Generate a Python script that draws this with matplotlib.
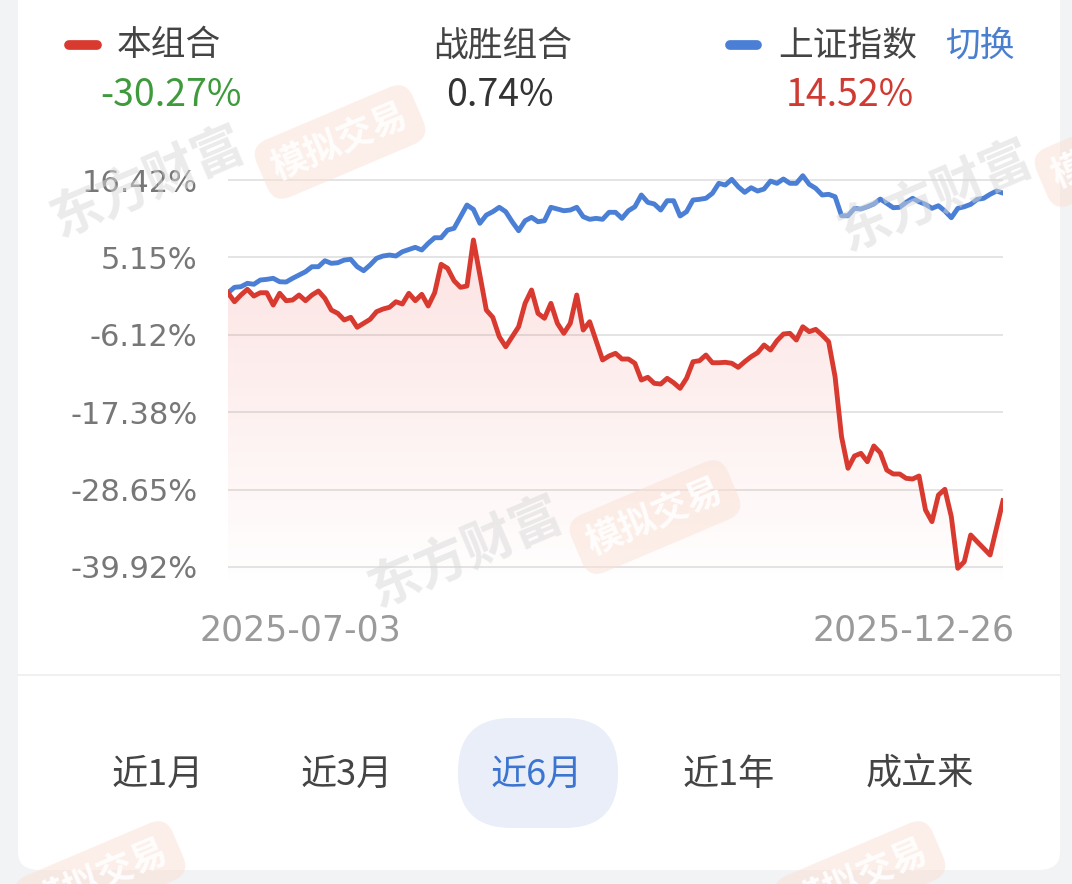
import numpy as np
import matplotlib.pyplot as plt
import matplotlib.transforms as mtransforms
from matplotlib.patches import FancyBboxPatch, Polygon
from matplotlib.lines import Line2D

plt.rcParams['font.family'] = ['Noto Sans CJK SC', 'DejaVu Sans']

# ---------------- data (trading day index since 2025-07-03, return %)
red_day = [0, 1, 2, 3, 4, 5, 6, 7, 8, 9, 10, 11, 12, 13, 14, 15, 16, 17, 18, 19,
           20, 21, 22, 23, 24, 25, 26, 27, 28, 29, 30, 31, 32, 33, 34, 35, 36, 37, 38,
           40, 41, 42, 43, 45, 46, 47, 48, 49, 50, 51, 52, 53, 54, 55, 56, 58, 59,
           60, 61, 62, 63, 64, 65, 66, 67, 68, 69, 70, 71, 72, 73, 74, 75, 76, 77,
           78, 79, 80, 81, 82, 83, 84, 85, 86, 87, 88, 89, 90, 91, 92, 93, 94, 95,
           96, 97, 98, 99, 100, 101, 102, 103, 104, 105, 106, 107, 108, 109, 110,
           111, 112, 113, 114, 115, 116, 117, 118, 120]
red_pct = [0.00, -1.30, -0.32, 0.51, -0.47, 0.01, 0.01, -1.78, -0.07, -1.15, -1.05,
           -0.32, -1.15, -0.32, 0.26, -0.80, -2.51, -2.99, -3.96, -3.57, -5.02, -4.44,
           -3.86, -2.75, -2.36, -2.11, -1.30, -1.63, -0.07, -1.15, -0.22, -1.92, 0.01,
           4.15, 3.57, 1.76, 0.80, 0.99, 7.69, -2.51, -3.57, -6.39, -7.85, -4.94,
           -1.53, 0.41, -2.99, -3.71, -1.53, -4.44, -5.90, -4.44, -0.32, -5.42, -4.21,
           -9.78, -9.20, -8.81, -9.64, -9.64, -10.26, -12.70, -12.30, -13.18, -13.28,
           -12.45, -13.09, -13.91, -12.45, -10.03, -9.89, -9.06, -10.18, -10.18,
           -10.12, -10.26, -10.85, -10.03, -9.30, -8.72, -7.60, -8.33, -6.98, -6.00,
           -5.90, -6.87, -4.94, -5.66, -5.32, -6.15, -7.12, -12.22, -20.95, -25.55,
           -23.76, -23.37, -24.59, -22.30, -23.28, -25.80, -26.38, -26.38, -27.01,
           -27.11, -26.67, -31.62, -33.32, -29.44, -28.61, -32.60, -40.11, -39.15,
           -35.26, -36.24, -37.20, -38.17, -30.27]

blue_day = [0, 1, 2, 3, 4, 5, 6, 7, 8, 9, 10, 12, 13, 14, 15, 16, 17, 18, 19, 20,
            21, 22, 23, 24, 25, 26, 27, 29, 30, 31, 32, 33, 34, 35, 36, 37, 38, 39,
            40, 41, 42, 43, 44, 45, 46, 47, 48, 49, 50, 51, 52, 53, 54, 55, 56, 57,
            58, 59, 60, 61, 62, 63, 64, 65, 66, 67, 68, 69, 70, 71, 72, 73, 74, 75,
            76, 77, 78, 79, 80, 81, 82, 83, 84, 85, 86, 87, 88, 89, 90, 91, 92, 93,
            94, 95, 96, 97, 98, 99, 100, 101, 102, 103, 104, 105, 106, 107, 108,
            109, 110, 111, 112, 113, 114, 115, 116, 117, 118, 119, 120]
blue_pct = [0.00, 0.80, 0.89, 1.38, 1.24, 1.86, 1.96, 2.11, 1.61, 1.57, 2.11, 3.07,
            3.80, 3.80, 4.67, 4.29, 4.38, 4.77, 4.88, 3.80, 3.22, 4.05, 5.02, 5.36,
            5.50, 5.36, 5.98, 6.62, 6.23, 7.20, 8.02, 8.02, 9.14, 9.39, 11.08, 12.78,
            12.15, 10.12, 11.32, 11.81, 12.45, 11.81, 10.35, 9.04, 10.49, 10.99,
            10.35, 10.49, 12.45, 12.20, 11.95, 12.05, 12.45, 11.08, 10.70, 10.84,
            10.70, 11.72, 11.72, 10.84, 11.95, 12.53, 14.24, 13.17, 12.93, 12.05,
            13.41, 13.41, 11.18, 11.81, 13.51, 13.61, 13.76, 14.48, 15.94, 15.69,
            16.52, 15.44, 14.63, 15.30, 14.82, 15.11, 16.27, 15.94, 16.57, 15.94,
            15.94, 17.05, 15.79, 15.21, 14.24, 14.34, 13.99, 11.22, 11.22, 12.30,
            12.20, 12.53, 12.93, 13.65, 13.03, 12.39, 12.45, 13.17, 13.76, 13.26,
            12.88, 12.30, 12.68, 11.91, 10.93, 12.30, 12.53, 12.88, 13.61, 13.76,
            14.34, 14.82, 14.52]

y_ticks = [16.42, 5.15, -6.12, -17.38, -28.65, -39.92]
x_labels = ['2025-07-03', '2025-12-26']
legend_names = ['本组合', '战胜组合', '上证指数']
legend_values = ['-30.27%', '0.74%', '14.52%']
periods = ['近1月', '近3月', '近6月', '近1年', '成立来']

RED = '#d83a30'
BLUE = '#4a7fd5'
W, H = 1072, 884

fig = plt.figure(figsize=(W / 100, H / 100), dpi=100)
fig.patch.set_facecolor('#f2f3f5')


def fx(px):
    return px / W


def fy(py):
    return 1 - py / H


# white card
card = FancyBboxPatch((fx(18), fy(870)), fx(1042), fy(-30) - fy(870),
                      boxstyle='round,pad=0,rounding_size=0.02',
                      transform=fig.transFigure, fc='white', ec='none', zorder=-5)
fig.patches.append(card)
fig.add_artist(Line2D([fx(18), fx(1060)], [fy(675), fy(675)], color='#ededed', lw=1.2,
                      zorder=-4))

# ---------------- header
fig.add_artist(Line2D([fx(69), fx(97)], [fy(45), fy(45)], color=RED, lw=7,
                      solid_capstyle='round'))
fig.text(fx(117), fy(46), legend_names[0], fontsize=25, color='#444444', va='center')
fig.text(fx(171), fy(96), legend_values[0], fontsize=27, color='#3e9a3c',
         ha='center', va='center')
fig.text(fx(503), fy(46), legend_names[1], fontsize=25, color='#444444',
         ha='center', va='center')
fig.text(fx(500), fy(96), legend_values[1], fontsize=27, color='#333333',
         ha='center', va='center')
fig.add_artist(Line2D([fx(730), fx(757)], [fy(45), fy(45)], color=BLUE, lw=7,
                      solid_capstyle='round'))
fig.text(fx(778), fy(46), legend_names[2], fontsize=25, color='#444444', va='center')
fig.text(fx(945), fy(46), '切换', fontsize=25, color='#4a7fd0', va='center')
fig.text(fx(850), fy(96), legend_values[2], fontsize=27, color='#cf3b33',
         ha='center', va='center')

# ---------------- chart
ax = fig.add_axes([fx(228), fy(590), fx(1003) - fx(228), fy(170) - fy(590)])
ax.set_facecolor('none')
for s in ax.spines.values():
    s.set_visible(False)

ax.set_yticks(y_ticks, ['%.2f%%' % v for v in y_ticks])
ax.tick_params(axis='y', length=0, pad=22, labelsize=22, labelcolor='#777777')
ax.yaxis.grid(True, color='#e4e4e4', lw=1.4)
ax.set_axisbelow(True)
for t in ax.get_yticklabels():
    t.set_family('DejaVu Sans')

ax.set_xticks([0, 120], x_labels)
ax.tick_params(axis='x', length=0, pad=17, labelsize=25, labelcolor='#9a9a9a')
xl = ax.get_xticklabels()
for t in xl:
    t.set_family('DejaVu Sans')
xl[0].set_ha('left')
xl[0].set_transform(xl[0].get_transform() +
                    mtransforms.ScaledTranslation(-0.28, 0, fig.dpi_scale_trans))
xl[1].set_ha('right')
xl[1].set_transform(xl[1].get_transform() +
                    mtransforms.ScaledTranslation(0.12, 0, fig.dpi_scale_trans))

# gradient fill under the portfolio line
ymin = -43.27
grad = np.zeros((256, 1, 4))
grad[:, 0, 0] = 0.93
grad[:, 0, 1] = 0.35
grad[:, 0, 2] = 0.33
grad[:, 0, 3] = np.linspace(0.17, 0.0, 256)
img = ax.imshow(grad, extent=[0, 120, ymin, max(red_pct)], aspect='auto',
                origin='upper', zorder=1)
poly = Polygon(list(zip(red_day, red_pct)) + [(red_day[-1], ymin), (red_day[0], ymin)],
               closed=True, fc='none', ec='none', transform=ax.transData)
ax.add_patch(poly)
img.set_clip_path(poly)

ax.plot(blue_day, blue_pct, color=BLUE, lw=3.5, zorder=3, solid_joinstyle='round')
ax.plot(red_day, red_pct, color=RED, lw=3.5, zorder=4, solid_joinstyle='round')
ax.set_xlim(0, 120)
ax.set_ylim(ymin, 17.88)

# ---------------- period selector
pill = FancyBboxPatch((fx(458), fy(828)), fx(160), fy(718) - fy(828),
                      boxstyle='round,pad=0,rounding_size=0.05',
                      transform=fig.transFigure, fc='#e9eef8', ec='none',
                      mutation_aspect=W / H, zorder=-3)
fig.patches.append(pill)
for name, px in zip(periods, [158, 347, 537, 729, 920]):
    c = '#3b74d1' if name == '近6月' else '#444444'
    fig.text(fx(px), fy(775), name, fontsize=26, color=c, ha='center', va='center')

# ---------------- watermarks
for px, py in [(147, 182), (935, 196), (465, 552)]:
    fig.text(fx(px), fy(py), '东方财富', fontsize=37, fontweight='bold', color='#d8d8d8',
             alpha=0.5, rotation=23, ha='center', va='center', rotation_mode='anchor')
for px, py in [(340, 142), (655, 517), (1120, 150), (100, 878), (860, 878)]:
    fig.text(fx(px), fy(py), '模拟交易', fontsize=26, fontweight='bold', color='white',
             alpha=0.9, rotation=23, ha='center', va='center', rotation_mode='anchor',
             bbox=dict(boxstyle='round,pad=0.35,rounding_size=0.5', fc='#fbe1d5',
                       ec='none', alpha=0.5))

fig.savefig('out.png', dpi=100, facecolor=fig.get_facecolor())
